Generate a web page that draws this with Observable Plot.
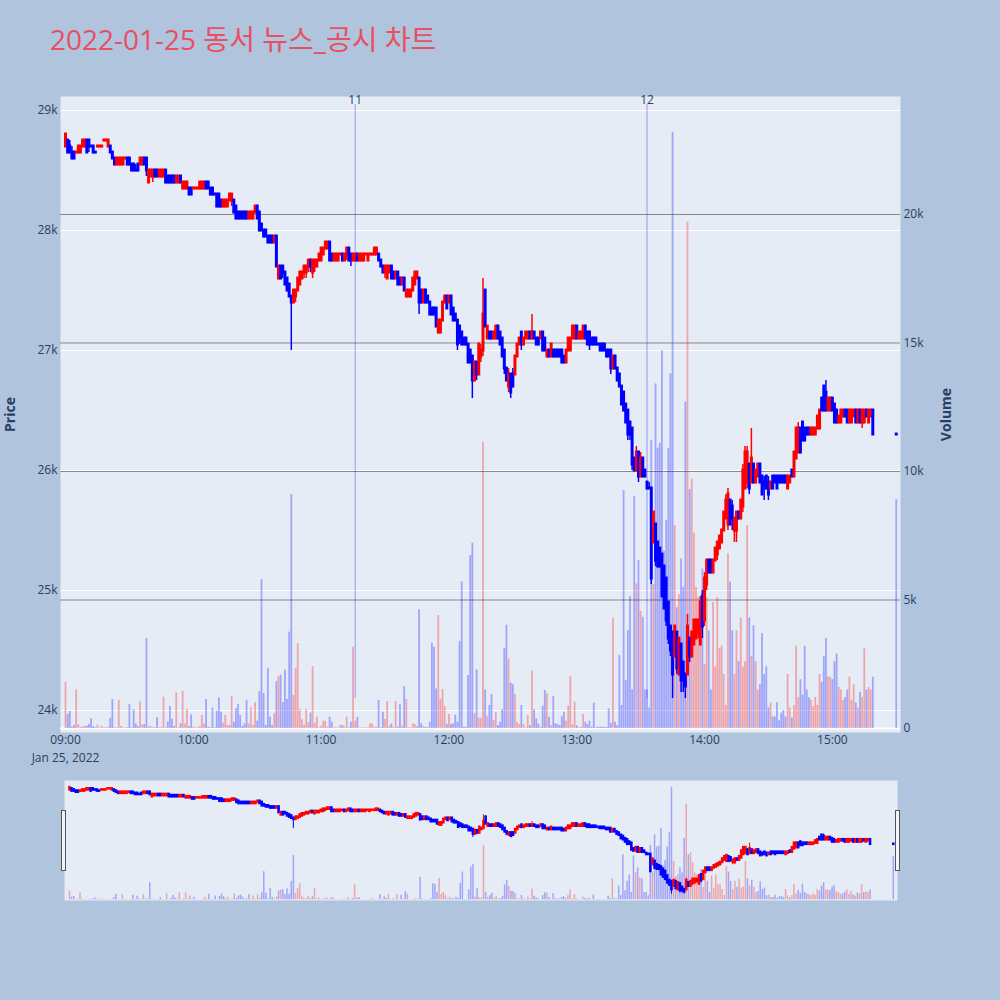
<!DOCTYPE html>
<html><head><meta charset="utf-8">
<script src="https://cdn.jsdelivr.net/npm/d3@7"></script>
<script src="https://cdn.jsdelivr.net/npm/@observablehq/plot@0.6"></script>
<style>
html,body{margin:0;padding:0;background:#b0c4de;}
#wrap{position:relative;width:1000px;height:1000px;background:#b0c4de;font-family:"Open Sans","Noto Sans CJK KR",sans-serif;overflow:hidden;}
#title{position:absolute;left:50px;top:25px;font-size:28px;line-height:1;color:#e8505f;white-space:nowrap;font-family:"Open Sans","Noto Sans CJK KR",sans-serif;}
.handle{position:absolute;top:810px;width:3px;height:59px;background:#f4f4f4;border:1px solid #555;}
</style></head>
<body><div id="wrap"><div id="title">2022-01-25 동서 뉴스_공시 차트</div></div>
<script>
// ---- axis / label values ----
const tickMinutes = [0, 60, 120, 180, 240, 300, 360];
const tickLabels = ["09:00", "10:00", "11:00", "12:00", "13:00", "14:00", "15:00"];
const dateLabel = "Jan 25, 2022";
const xDomain = [-2.35, 392];
const priceDomain = [23817, 29117];
const priceTicks = [24000, 25000, 26000, 27000, 28000, 29000];
const volDomain = [-155, 24590];
const volTicks = [0, 5000, 10000, 15000, 20000];
const newsMinutes = [136, 273];
const newsLabels = ["11", "12"];
const newsLow = [24100, 24100];
const newsTop = [29050, 29050];

// ---- minute candles (minutes after 09:00) ----
const minutes = [...d3.range(0, 380), 390];
const open = [
28700,28750,28700,28650,28650,28650,28650,28650,28700,28700,
28750,28750,28700,28700,28650,28700,28700,28700,28750,28750,
28700,28700,28650,28600,28550,28550,28550,28550,28600,28600,
28600,28550,28550,28500,28550,28550,28550,28600,28600,28400,
28450,28450,28500,28500,28450,28450,28450,28500,28450,28450,
28450,28450,28400,28400,28450,28350,28350,28350,28350,28350,
28350,28350,28350,28350,28350,28350,28400,28400,28350,28350,
28300,28300,28300,28250,28200,28200,28200,28250,28250,28250,
28200,28150,28150,28150,28150,28150,28100,28100,28100,28150,
28200,28150,28050,28000,28000,27950,27950,27950,27900,27950,
27600,27700,27700,27650,27600,27550,27450,27400,27450,27500,
27550,27600,27650,27650,27700,27750,27650,27700,27700,27750,
27750,27800,27850,27850,27900,27800,27750,27750,27750,27800,
27800,27750,27800,27850,27800,27750,27750,27800,27750,27750,
27750,27800,27750,27800,27800,27800,27800,27800,27750,27700,
27650,27600,27650,27700,27650,27600,27650,27600,27550,27600,
27450,27450,27450,27500,27550,27600,27600,27500,27400,27500,
27450,27400,27350,27350,27350,27150,27150,27250,27400,27450,
27400,27450,27350,27300,27250,27200,27150,27100,27100,27050,
27000,26950,26750,26900,26800,26950,27000,27500,27100,27150,
27150,27100,27100,27200,27150,27100,27000,26850,26700,26800,
26800,26800,26950,27050,27150,27050,27100,27100,27150,27100,
27150,27100,27100,27100,27150,27100,26950,27000,26950,27000,
27000,27000,27000,27000,26950,26900,27000,27000,27100,27100,
27200,27100,27100,27100,27200,27150,27150,27100,27100,27100,
27050,27050,27050,27050,27000,27000,27000,26850,26950,26850,
26800,26700,26650,26550,26500,26400,26350,26100,26000,26150,
25950,26100,26000,25900,25850,25850,25400,25550,25400,25350,
25300,25200,25100,24900,24700,24650,24450,24650,24300,24550,
24400,24300,24300,24600,24450,24550,24600,24650,24550,24950,
24750,25050,25250,25250,25150,25250,25300,25350,25400,25500,
25600,25550,25750,25700,25500,25500,25650,25600,25700,25850,
25900,26050,25900,26050,25900,25950,26050,25950,25900,25950,
25900,25850,25950,25950,25950,25950,25950,25950,25950,25850,
25900,26000,25950,26100,26150,26350,26400,26350,26350,26350,
26300,26300,26300,26350,26350,26600,26700,26650,26500,26500,
26600,26550,26500,26400,26400,26450,26500,26500,26400,26400,
26450,26500,26400,26500,26400,26400,26500,26400,26450,26500,
26300];
const high = [
28800,28750,28750,28700,28650,28650,28700,28700,28750,28750,
28750,28750,28700,28700,28650,28700,28700,28700,28750,28750,
28750,28700,28650,28600,28600,28600,28600,28600,28600,28600,
28600,28550,28550,28550,28550,28600,28600,28600,28600,28500,
28500,28500,28500,28500,28500,28500,28500,28500,28450,28450,
28450,28450,28450,28450,28450,28400,28400,28400,28350,28350,
28350,28350,28350,28400,28400,28400,28400,28400,28350,28350,
28300,28300,28300,28250,28250,28250,28250,28300,28300,28250,
28200,28150,28150,28150,28150,28150,28150,28150,28150,28200,
28200,28150,28050,28000,28000,27950,27950,27950,27950,27950,
27700,27700,27700,27650,27600,27550,27450,27500,27500,27600,
27650,27650,27700,27700,27750,27750,27750,27750,27750,27800,
27850,27850,27900,27900,27900,27800,27800,27800,27800,27800,
27800,27800,27850,27850,27800,27800,27800,27800,27800,27800,
27800,27800,27800,27800,27800,27850,27850,27800,27750,27700,
27700,27700,27700,27700,27650,27650,27650,27600,27600,27600,
27500,27500,27500,27600,27650,27650,27600,27500,27500,27500,
27450,27400,27350,27350,27350,27250,27250,27400,27450,27450,
27450,27450,27350,27300,27250,27200,27150,27100,27100,27050,
27000,26950,26900,26900,27050,27050,27600,27500,27200,27150,
27150,27150,27200,27200,27150,27100,27000,26850,26850,26800,
26850,26950,27050,27100,27150,27100,27150,27150,27150,27300,
27150,27100,27100,27150,27150,27100,27000,27000,27050,27000,
27000,27000,27000,27000,26950,27000,27100,27100,27200,27200,
27200,27150,27150,27200,27200,27150,27150,27100,27100,27100,
27050,27050,27050,27050,27000,27000,27000,26950,26950,26850,
26800,26700,26650,26550,26500,26400,26350,26100,26200,26150,
26150,26100,26000,25900,25900,25850,25650,25550,25400,25350,
25300,25200,25100,24900,24700,24650,24700,24650,24600,24550,
24400,24300,24800,24600,24650,24750,24750,24750,24950,25000,
25150,25250,25250,25250,25250,25350,25400,25450,25500,25650,
25800,25850,25750,25750,25600,25650,25650,25750,26050,26200,
26200,26050,26350,26050,26000,26050,26050,25950,25950,25950,
25950,25900,25950,25950,25950,25950,25950,25950,25950,25950,
25950,26000,26150,26350,26400,26350,26400,26350,26350,26350,
26350,26350,26350,26450,26500,26600,26700,26750,26600,26600,
26600,26550,26500,26450,26500,26500,26500,26500,26500,26500,
26500,26500,26500,26500,26500,26500,26500,26500,26500,26500,
26300];
const low = [
28700,28650,28650,28600,28600,28650,28650,28650,28700,28700,
28650,28650,28700,28650,28650,28700,28700,28700,28750,28750,
28700,28650,28600,28550,28550,28550,28550,28550,28600,28550,
28550,28500,28500,28500,28500,28550,28550,28550,28450,28400,
28450,28400,28450,28450,28450,28450,28450,28400,28400,28400,
28400,28400,28400,28400,28400,28350,28350,28350,28300,28300,
28350,28350,28350,28350,28350,28350,28350,28350,28300,28300,
28300,28200,28200,28200,28200,28200,28200,28250,28200,28150,
28100,28100,28100,28100,28100,28100,28100,28100,28100,28150,
28100,28000,28000,27950,27950,27900,27900,27900,27900,27700,
27600,27600,27600,27550,27500,27450,27000,27400,27400,27500,
27550,27600,27600,27600,27650,27650,27600,27650,27700,27750,
27750,27800,27850,27850,27750,27750,27750,27750,27750,27800,
27750,27750,27750,27750,27700,27750,27750,27750,27750,27750,
27750,27800,27750,27800,27800,27800,27800,27750,27700,27650,
27600,27600,27650,27600,27600,27600,27550,27550,27550,27500,
27450,27450,27450,27500,27550,27600,27300,27400,27400,27400,
27400,27300,27300,27300,27200,27150,27150,27250,27400,27350,
27400,27300,27250,27250,27000,27050,27050,27050,27050,26900,
26900,26600,26750,26750,26800,26900,26950,27200,27100,27100,
27100,27100,27100,27100,27050,26950,26800,26750,26650,26600,
26700,26800,26950,27050,27000,27050,27100,27100,27100,27100,
27100,27050,27050,27100,27000,27000,26950,26950,26950,26950,
26950,26950,26950,26900,26900,26900,27000,27000,27100,27100,
27100,27100,27100,27100,27100,27050,27000,27050,27050,27050,
27050,27000,27000,27000,26950,26950,26800,26850,26850,26750,
26700,26550,26500,26400,26250,26250,26000,26000,26000,25900,
25950,25950,25950,25850,25850,25050,25400,25200,25200,25200,
24950,24850,24700,24550,24450,24100,24450,24300,24300,24150,
24150,24100,24300,24400,24450,24550,24600,24600,24550,24600,
24700,25000,25150,25150,25150,25250,25250,25350,25400,25500,
25600,25500,25550,25500,25400,25400,25600,25600,25650,25850,
25850,25800,25900,25900,25900,25950,25900,25800,25750,25850,
25750,25850,25850,25900,25850,25900,25900,25900,25900,25850,
25900,25950,25950,26100,26150,26150,26250,26250,26300,26300,
26300,26300,26300,26350,26350,26500,26500,26500,26500,26500,
26500,26400,26400,26400,26400,26450,26450,26400,26400,26400,
26450,26400,26400,26400,26350,26400,26450,26400,26450,26300,
26300];
const close = [
28800,28650,28650,28600,28600,28650,28700,28700,28750,28750,
28650,28700,28700,28650,28650,28700,28700,28700,28750,28750,
28750,28650,28600,28550,28600,28600,28600,28600,28600,28550,
28550,28500,28500,28500,28500,28600,28600,28550,28500,28500,
28500,28500,28450,28450,28500,28500,28500,28400,28400,28400,
28400,28400,28450,28450,28400,28400,28400,28400,28300,28300,
28350,28350,28350,28400,28400,28400,28350,28350,28300,28300,
28300,28200,28200,28200,28250,28250,28250,28300,28300,28150,
28100,28100,28100,28100,28100,28100,28150,28150,28150,28200,
28100,28000,28000,27950,27950,27900,27900,27900,27950,27700,
27700,27600,27650,27550,27500,27450,27400,27500,27500,27600,
27650,27650,27700,27700,27750,27700,27750,27750,27750,27800,
27850,27850,27900,27900,27750,27750,27800,27800,27800,27800,
27750,27800,27850,27750,27750,27800,27800,27750,27800,27800,
27800,27800,27800,27800,27800,27850,27850,27750,27700,27650,
27700,27700,27700,27600,27600,27650,27550,27550,27600,27500,
27500,27500,27500,27600,27650,27650,27400,27400,27500,27400,
27400,27300,27300,27300,27200,27250,27250,27400,27450,27350,
27450,27300,27250,27250,27050,27100,27050,27050,27050,26900,
26900,26750,26900,26800,27050,27000,27300,27200,27200,27100,
27100,27150,27200,27100,27050,26950,26850,26750,26800,26650,
26700,26950,27050,27100,27050,27100,27150,27150,27100,27150,
27100,27050,27050,27150,27000,27000,27000,26950,27050,26950,
26950,26950,26950,26900,26900,27000,27100,27100,27200,27200,
27100,27150,27150,27200,27100,27050,27050,27050,27050,27050,
27050,27000,27000,27000,26950,26950,26850,26950,26850,26750,
26700,26550,26500,26400,26300,26300,26050,26000,26150,25950,
26100,25950,25950,25850,25850,25100,25650,25250,25200,25200,
24950,24850,24750,24600,24500,24300,24700,24350,24600,24250,
24250,24200,24700,24450,24650,24750,24750,24750,24900,24700,
25100,25250,25150,25150,25250,25350,25400,25450,25500,25650,
25750,25800,25550,25600,25600,25650,25600,25750,26000,26150,
26150,25850,26100,25900,26000,26050,25900,25800,25850,25850,
25800,25900,25850,25900,25850,25900,25900,25900,25900,25950,
25950,25950,26150,26350,26350,26150,26250,26250,26300,26300,
26350,26350,26350,26450,26500,26500,26500,26500,26600,26600,
26500,26400,26400,26450,26500,26500,26450,26400,26500,26500,
26500,26400,26500,26400,26500,26500,26450,26500,26500,26300,
26300];
const volume = [
1800,540,660,50,120,1500,155,50,50,90,
90,155,380,80,30,140,30,80,30,30,
50,400,1130,30,30,1090,80,30,30,30,
930,30,730,180,80,1040,140,155,3500,80,
80,30,30,415,30,50,1220,30,250,860,
360,80,1390,30,180,1450,180,750,80,530,
50,30,30,90,505,180,1130,50,30,790,
30,675,1190,635,210,505,120,120,1260,250,
765,935,505,80,180,1100,180,805,120,1000,
285,1440,5790,1360,120,2330,440,120,570,1830,
2020,2075,1010,2280,1140,3750,9100,1285,2320,3300,
730,340,130,730,220,600,2410,205,440,30,
90,285,285,50,440,245,25,25,25,120,
120,50,440,30,245,3160,285,440,25,25,
25,25,30,180,180,50,50,1090,30,635,
350,1050,90,180,30,1050,50,920,80,1630,
1130,30,30,180,155,80,4620,180,80,50,
30,245,3320,3160,1540,4400,1140,1520,855,155,
545,155,180,520,245,3385,5710,50,50,2060,
6730,7210,570,2280,400,400,11140,1500,465,895,
1320,310,620,115,245,725,3100,4020,2710,1765,
1710,1320,235,155,895,155,30,495,115,2230,
725,375,180,50,870,1480,1350,440,115,1245,
180,155,115,465,635,285,870,2020,145,1025,
105,30,50,545,245,155,285,50,985,30,
50,50,50,50,50,765,205,4290,245,115,
2840,895,9260,1870,3810,5140,1505,9030,5630,6540,
4550,4330,1505,1500,800,11200,5600,13400,10900,11100,
14700,6900,8100,10900,13800,23200,7900,4700,5200,6600,
5500,12700,19700,9300,9700,7600,5500,5100,3900,6200,
2500,5100,3800,1500,4900,2400,5100,3100,3200,2100,
900,6800,5700,3800,2100,3800,2600,4300,2400,2600,
7900,4300,2800,4000,2600,1500,1700,3700,2100,2400,
800,1000,450,450,1000,300,600,700,450,2100,
800,400,900,3200,1200,1900,1300,3200,1500,1200,
1100,850,1200,900,2100,1800,2800,3500,2000,2000,
1900,2600,2900,1600,1500,1100,1200,1500,2000,1100,
1700,1000,800,1400,1200,3100,1500,1600,1500,2000,
8900];

// ---- build table ----
const UP = "#ff0000", DOWN = "#0000ff";
const rows = minutes.map((m, i) => ({m, o: open[i], h: high[i], l: low[i], c: close[i], v: volume[i]}));
let prevC = null, prevDir = DOWN;
for (const r of rows) {
  let dir;
  if (r.c > r.o) dir = UP;
  else if (r.c < r.o) dir = DOWN;
  else if (prevC !== null && r.c > prevC) dir = UP;
  else if (prevC !== null && r.c < prevC) dir = DOWN;
  else dir = prevDir;
  r.dir = dir; prevC = r.c; prevDir = dir;
}
const news = newsMinutes.map((m, i) => ({m, label: newsLabels[i], lo: newsLow[i], hi: newsTop[i]}));

const wrap = document.getElementById("wrap");
const style = {background: "transparent", color: "#2a3f5f", fontFamily: "'Open Sans', sans-serif", fontSize: "12px", overflow: "visible"};
const mainDims = {width: 1000, height: 690, marginTop: 16, marginBottom: 38, marginLeft: 60, marginRight: 100, style};
function place(svg, top, left) {
  svg.style.position = "absolute";
  svg.style.top = top + "px";
  svg.style.left = left + "px";
  wrap.appendChild(svg);
}

// layer 1: background, price grid, x axis, left axis
place(Plot.plot({
  ...mainDims,
  x: {domain: xDomain, ticks: tickMinutes, tickFormat: d => tickLabels[tickMinutes.indexOf(d)], tickSize: 0, tickPadding: 3, label: null},
  y: {domain: priceDomain, ticks: priceTicks, tickFormat: d => (d / 1000) + "k", tickSize: 0, tickPadding: 3, label: null},
  marks: [
    Plot.frame({fill: "#e5ecf6", stroke: "none"}),
    Plot.ruleY(priceTicks, {stroke: "#ffffff", strokeWidth: 1}),
    Plot.text(["Price"], {text: d => d, frameAnchor: "left", textAnchor: "middle", dx: -50, rotate: -90, fontSize: 14, fontWeight: "bold"}),
    Plot.text([dateLabel], {text: d => d, x: [tickMinutes[0]], frameAnchor: "bottom", dy: 29})
  ]
}), 80, 0);

// layer 2: volume grid, bars, right axis
place(Plot.plot({
  ...mainDims,
  x: {domain: xDomain, axis: null},
  y: {domain: volDomain, axis: "right", ticks: volTicks, tickFormat: d => d === 0 ? "0" : (d / 1000) + "k", tickSize: 0, tickPadding: 3, label: null},
  color: {type: "identity"},
  marks: [
    Plot.ruleY(volTicks.filter(d => d > 0), {stroke: "#888888", strokeWidth: 1}),
    Plot.ruleY([volTicks[0]], {stroke: "#ffffff", strokeWidth: 2}),
    Plot.ruleX(rows, {x: "m", y1: 0, y2: "v", stroke: "dir", strokeOpacity: 0.3, strokeWidth: 1.8}),
    Plot.text(["Volume"], {text: d => d, frameAnchor: "right", textAnchor: "middle", dx: 46, rotate: -90, fontSize: 14, fontWeight: "bold"})
  ]
}), 80, 0);

// layer 3: news lines and candles
place(Plot.plot({
  ...mainDims,
  x: {domain: xDomain, axis: null},
  y: {domain: priceDomain, axis: null},
  color: {type: "identity"},
  marks: [
    Plot.ruleX(news, {x: "m", y1: "lo", y2: "hi", stroke: "#0000ff", strokeOpacity: 0.35, strokeWidth: 1}),
    Plot.text(news, {x: "m", y: "hi", text: "label", lineAnchor: "bottom", dy: -1}),
    Plot.ruleX(rows, {x: "m", y1: "l", y2: "h", stroke: "dir", strokeWidth: 1.5}),
    Plot.ruleX(rows, {x: "m", y1: "o", y2: "c", stroke: "dir", strokeWidth: 3, strokeLinecap: "square"})
  ]
}), 80, 0);

// range slider
const sliderDims = {width: 833, height: 120, marginTop: 0, marginBottom: 0, marginLeft: 0, marginRight: 0, style};
place(Plot.plot({
  ...sliderDims,
  x: {domain: xDomain, axis: null},
  y: {domain: volDomain, axis: null},
  color: {type: "identity"},
  marks: [
    Plot.frame({fill: "#e5ecf6", stroke: "none"}),
    Plot.ruleX(rows, {x: "m", y1: 0, y2: "v", stroke: "dir", strokeOpacity: 0.3, strokeWidth: 1.5})
  ]
}), 780, 64);
place(Plot.plot({
  ...sliderDims,
  x: {domain: xDomain, axis: null},
  y: {domain: priceDomain, axis: null},
  color: {type: "identity"},
  marks: [
    Plot.ruleX(rows, {x: "m", y1: "l", y2: "h", stroke: "dir", strokeWidth: 1}),
    Plot.ruleX(rows, {x: "m", y1: "o", y2: "c", stroke: "dir", strokeWidth: 2.6, strokeLinecap: "square"})
  ]
}), 780, 64);

// slider handles
for (const left of [61, 895]) {
  const h = document.createElement("div");
  h.className = "handle";
  h.style.left = left + "px";
  wrap.appendChild(h);
}
</script>
</body></html>
